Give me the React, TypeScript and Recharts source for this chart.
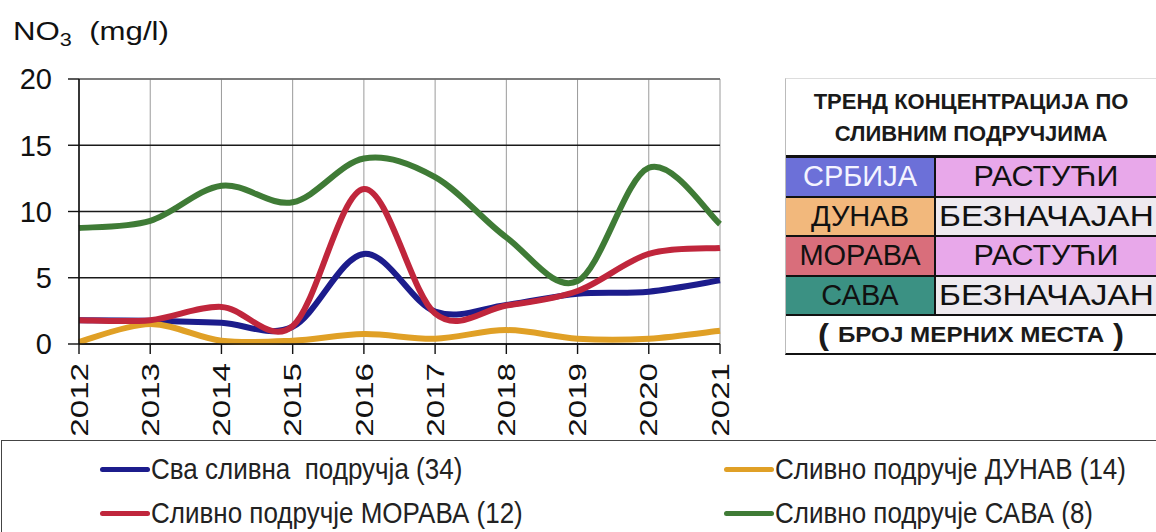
import React from 'react'
import {
  LineChart,
  Line,
  XAxis,
  YAxis,
  CartesianGrid,
  ReferenceLine,
} from 'recharts'

// NO3 concentration (mg/l) by year
const years = [2012, 2013, 2014, 2015, 2016, 2017, 2018, 2019, 2020, 2021]
const allBasins = [1.8, 1.75, 1.6, 1.3, 6.8, 2.45, 2.95, 3.8, 3.95, 4.8]
const danube = [0.15, 1.5, 0.25, 0.25, 0.75, 0.4, 1.05, 0.4, 0.4, 1.0]
const morava = [1.8, 1.8, 2.8, 1.35, 11.7, 2.3, 2.9, 4.0, 6.8, 7.25]
const sava = [8.75, 9.3, 11.95, 10.7, 14.0, 12.6, 8.05, 4.75, 13.3, 9.05]
const yTicks = [0, 5, 10, 15, 20]

const seriesKeys = ['all', 'danube', 'morava', 'sava']
const seriesNames = [
  'Сва сливна  подручја (34)',
  'Сливно подручје ДУНАВ (14)',
  'Сливно подручје МОРАВА (12)',
  'Сливно подручје САВА (8)',
]
const seriesColors = ['#1c1c8c', '#e0a026', '#c0263c', '#3f7b36']

// trend table on the right
const trendBasins = ['СРБИЈА', 'ДУНАВ', 'МОРАВА', 'САВА']
const trendValues = ['РАСТУЋИ', 'БЕЗНАЧАЈАН', 'РАСТУЋИ', 'БЕЗНАЧАЈАН']
const basinFills = ['#6c70d8', '#f2b87c', '#d96e7b', '#3b9183']
const basinText = ['#f4f4ff', '#111', '#111', '#111']
const trendFills = ['#e8a8ea', '#eeeaef', '#e8a8ea', '#eeeaef']

const data = years.map((year, i) => ({
  year,
  all: allBasins[i],
  danube: danube[i],
  morava: morava[i],
  sava: sava[i],
}))

// Excel-like smoothed line (Catmull-Rom through the points)
function excelSmooth(context: any) {
  let xs: number[] = []
  let ys: number[] = []
  return {
    areaStart() {},
    areaEnd() {},
    lineStart() {
      xs = []
      ys = []
    },
    lineEnd() {
      const n = xs.length
      if (!n) return
      context.moveTo(xs[0], ys[0])
      for (let i = 0; i < n - 1; i++) {
        const a = Math.max(i - 1, 0)
        const d = Math.min(i + 2, n - 1)
        context.bezierCurveTo(
          xs[i] + (xs[i + 1] - xs[a]) / 6,
          ys[i] + (ys[i + 1] - ys[a]) / 6,
          xs[i + 1] - (xs[d] - xs[i]) / 6,
          ys[i + 1] - (ys[d] - ys[i]) / 6,
          xs[i + 1],
          ys[i + 1],
        )
      }
    },
    point(x: number, y: number) {
      xs.push(+x)
      ys.push(+y)
    },
  }
}

const FONT = '"Liberation Sans", Arial, sans-serif'

function YearTick({ x, y, payload }: any) {
  return (
    <g transform={`translate(${x},${y})`}>
      <text
        transform="rotate(-90) scale(1.38,1)"
        textAnchor="end"
        dy="0.36em"
        fontSize={24}
        fontFamily={FONT}
        fill="#111"
      >
        {payload.value}
      </text>
    </g>
  )
}

function TrendTable() {
  const rowH = 39.5
  return (
    <div
      style={{
        position: 'absolute',
        left: 785,
        top: 78,
        width: 371,
        height: 277,
        boxSizing: 'border-box',
        borderLeft: '1px solid #bbb',
        borderTop: '1px solid #ddd',
        borderBottom: '2px solid #111',
        background: '#fff',
        fontFamily: FONT,
      }}
    >
      <div
        style={{
          height: 79,
          display: 'flex',
          flexDirection: 'column',
          justifyContent: 'center',
          alignItems: 'center',
          fontSize: 22,
          fontWeight: 'bold',
          color: '#1a1a1a',
          lineHeight: '32px',
          borderBottom: '3px solid #111',
          boxSizing: 'border-box',
          paddingTop: 2,
        }}
      >
        <div>ТРЕНД КОНЦЕНТРАЦИЈА ПО</div>
        <div>СЛИВНИМ ПОДРУЧЈИМА</div>
      </div>
      {trendBasins.map((b, i) => (
        <div
          key={b}
          style={{
            display: 'flex',
            height: rowH,
            borderBottom: '2px solid #111',
            boxSizing: 'border-box',
            fontSize: 29,
          }}
        >
          <div
            style={{
              width: 148,
              background: basinFills[i],
              color: basinText[i],
              display: 'flex',
              alignItems: 'center',
              justifyContent: 'center',
              borderRight: '2px solid #111',
            }}
          >
            <span style={{ display: 'inline-block' }}>{b}</span>
          </div>
          <div
            style={{
              flex: 1,
              background: trendFills[i],
              color: '#111',
              display: 'flex',
              alignItems: 'center',
              justifyContent: 'center',
            }}
          >
            <span
              style={{
                display: 'inline-block',
                transform: `scaleX(${trendValues[i].length > 8 ? 1.15 : 1.05})`,
              }}
            >
              {trendValues[i]}
            </span>
          </div>
        </div>
      ))}
      <div
        style={{
          height: 38,
          display: 'flex',
          alignItems: 'center',
          justifyContent: 'center',
          fontSize: 22,
          fontWeight: 'bold',
          color: '#1a1a1a',
        }}
      >
        <span style={{ display: 'inline-flex', alignItems: 'center', transform: 'scaleX(1.1)' }}>
          <span style={{ fontSize: 30, marginRight: 8 }}>(</span>
          БРОЈ МЕРНИХ МЕСТА
          <span style={{ fontSize: 30, marginLeft: 8 }}>)</span>
        </span>
      </div>
    </div>
  )
}

function LegendBox() {
  const cols = [98, 722]
  const rows = [468, 512]
  return (
    <div
      style={{
        position: 'absolute',
        left: 1,
        top: 440,
        width: 1160,
        height: 100,
        border: '1.5px solid #444',
        boxSizing: 'border-box',
      }}
    >
      {seriesKeys.map((k, i) => {
        const left = cols[i % 2]
        const top = rows[Math.floor(i / 2)] - 440
        return (
          <div
            key={k}
            style={{
              position: 'absolute',
              left,
              top: top - 17,
              height: 34,
              display: 'flex',
              alignItems: 'center',
              whiteSpace: 'pre',
              fontFamily: FONT,
              fontSize: 26,
              color: '#222',
            }}
          >
            <span
              style={{
                display: 'inline-block',
                width: 50,
                height: 5,
                borderRadius: 3,
                background: seriesColors[i],
                marginRight: 1,
              }}
            />
            <span style={{ display: 'inline-block', transform: 'scaleY(1.1)' }}>{seriesNames[i]}</span>
          </div>
        )
      })}
    </div>
  )
}

export default function App() {
  return (
    <div
      style={{
        position: 'absolute',
        left: 0,
        top: 0,
        width: 1156,
        height: 532,
        background: '#fff',
        overflow: 'hidden',
        fontFamily: FONT,
      }}
    >
      <div
        style={{
          position: 'absolute',
          left: 13,
          top: 18,
          fontSize: 26,
          lineHeight: 1,
          color: '#111',
          whiteSpace: 'pre',
          transform: 'scaleX(1.2)',
          transformOrigin: 'left top',
        }}
      >
        NO<span style={{ fontSize: 18, position: 'relative', top: 6 }}>3</span>{'  (mg/l)'}
      </div>

      <div style={{ position: 'absolute', left: 0, top: 0 }}>
        <LineChart
          width={1156}
          height={532}
          data={data}
          margin={{ top: 79, right: 436, left: 0, bottom: 88 }}
        >
          <CartesianGrid horizontal={false} vertical stroke="#9a9a9a" strokeWidth={1} />
          <CartesianGrid vertical={false} horizontal stroke="#1a1a1a" strokeWidth={1.6} />
          <ReferenceLine y={20} stroke="#8a8a8a" strokeWidth={1.6} />
          <XAxis
            dataKey="year"
            type="number"
            domain={[2012, 2021]}
            ticks={years}
            interval={0}
            height={100}
            tickSize={10}
            tickMargin={9}
            axisLine={{ stroke: '#111', strokeWidth: 1.6 }}
            tickLine={{ stroke: '#111', strokeWidth: 1.4 }}
            tick={<YearTick />}
          />
          <YAxis
            domain={[0, 20]}
            ticks={yTicks}
            interval={0}
            width={79}
            tickSize={11}
            tickMargin={16}
            axisLine={{ stroke: '#111', strokeWidth: 1.6 }}
            tickLine={{ stroke: '#111', strokeWidth: 1.4 }}
            tick={{ fontSize: 29, fill: '#111', fontFamily: FONT }}
          />
          {seriesKeys.map((k, i) => (
            <Line
              key={k}
              dataKey={k}
              name={seriesNames[i]}
              type={excelSmooth as any}
              stroke={seriesColors[i]}
              strokeWidth={6}
              dot={false}
              activeDot={false}
              isAnimationActive={false}
            />
          ))}
        </LineChart>
      </div>

      <TrendTable />
      <LegendBox />
    </div>
  )
}
